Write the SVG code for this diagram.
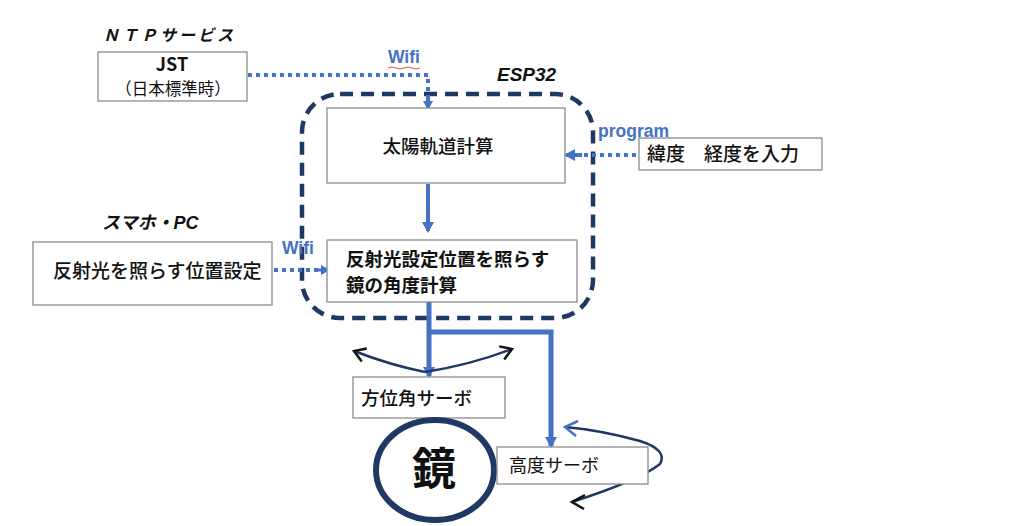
<svg xmlns="http://www.w3.org/2000/svg" width="1024" height="526" viewBox="0 0 1024 526">
<defs>
<style>
.box{fill:#fff;stroke:#8c8c8c;stroke-width:1.3}
.t{font-family:"Noto Sans CJK JP","Liberation Sans",sans-serif;fill:#111}
.it{font-family:"Liberation Sans","Noto Sans CJK JP",sans-serif;font-style:italic;font-weight:bold;fill:#111}
.lbl{font-family:"Liberation Sans",sans-serif;font-weight:bold;fill:#4472c4;font-size:17.5px}
.dot{fill:none;stroke:#4472c4;stroke-width:4;stroke-dasharray:4 4}
.thick{fill:none;stroke:#4472c4;stroke-width:5}
.curve{fill:none;stroke:#1f3864;stroke-width:2.5}
</style>
<marker id="ah" markerWidth="10" markerHeight="10" refX="7" refY="5" orient="auto" markerUnits="userSpaceOnUse" viewBox="0 0 10 10">
<path d="M0,0 L9,5 L0,10 Z" fill="#4472c4"/>
</marker>
<marker id="ahs" markerWidth="12" markerHeight="12" refX="9" refY="6" orient="auto" markerUnits="userSpaceOnUse" viewBox="0 0 12 12">
<path d="M0,0 L11,6 L0,12 Z" fill="#4472c4"/>
</marker>
<marker id="open" markerWidth="16" markerHeight="16" refX="13" refY="8" orient="auto" markerUnits="userSpaceOnUse" viewBox="0 0 16 16">
<path d="M2,1 L13,8 L2,15" fill="none" stroke="#111" stroke-width="2.5"/>
</marker>
</defs>
<rect width="1024" height="526" fill="#fff"/>

<g id="esp32">
<rect x="302" y="94" width="291" height="224" rx="38" fill="none" stroke="#1f3864" stroke-width="4.5" stroke-dasharray="13 8"/>
<text class="it" x="497" y="81" font-size="19" font-weight="normal">ESP32</text>
</g>

<g id="connectors">
<path class="dot" d="M248,75 H428 V100" />
<path d="M428,98 V108" stroke="#4472c4" stroke-width="4" marker-end="url(#ah)"/>
<path class="dot" d="M636,155 H580"/>
<path d="M582,155 H566" stroke="#4472c4" stroke-width="4" marker-end="url(#ahs)"/>
<path class="dot" d="M274,270 H318"/>
<path d="M318,270 H328" stroke="#4472c4" stroke-width="3" marker-end="url(#ah)"/>
<path d="M428,184 V231" stroke="#4472c4" stroke-width="4" marker-end="url(#ahs)"/>
<path d="M429,302 V376" class="thick" marker-end="url(#ahs)"/>
<path d="M429,332 H551 V446" class="thick" marker-end="url(#ahs)"/>
<path class="curve" d="M425,372 Q390,365 354,351" marker-end="url(#open)"/>
<path class="curve" d="M425,372 Q470,365 512,349" marker-end="url(#open)"/>
<path class="curve" d="M572,502 Q640,480 660,464 Q668,450 640,441 Q600,430 565,427"/>
<path d="M578,421 L565,427 L576,436" fill="none" stroke="#4472c4" stroke-width="2.5"/>
<path d="M585,495 L572,502 L584,509" fill="none" stroke="#111" stroke-width="2.5"/>
</g>

<g id="ntp">
<text class="it" x="103" y="41" font-size="16" letter-spacing="3">ＮＴＰサービス</text>
<rect class="box" x="98" y="52" width="149" height="49"/>
<text class="t" x="172" y="71" font-size="18" font-weight="bold" text-anchor="middle">JST</text>
<text class="t" x="173" y="95" font-size="16.5" text-anchor="middle">（日本標準時）</text>
<text class="lbl" x="388" y="63">Wifi</text>
<path d="M388,68 Q392,66 396,68 T404,68 T412,68 T420,68" fill="none" stroke="#e05050" stroke-width="1"/>
</g>

<g id="sun">
<rect class="box" x="327" y="108" width="238" height="75"/>
<text class="t" x="438" y="153" font-size="18.5" font-weight="500" text-anchor="middle">太陽軌道計算</text>
</g>

<g id="latlon">
<text class="lbl" x="598" y="137">program</text>
<rect class="box" x="639" y="138" width="183" height="32"/>
<text class="t" x="647" y="161" font-size="19" font-weight="500" xml:space="preserve">緯度　経度を入力</text>
</g>

<g id="phone">
<text class="it" x="102" y="229" font-size="18">スマホ・PC</text>
<rect class="box" x="33" y="242" width="239" height="63"/>
<text class="t" x="53" y="278" font-size="19" font-weight="500">反射光を照らす位置設定</text>
<text class="lbl" x="282" y="254">Wifi</text>
</g>

<g id="calc">
<rect class="box" x="327" y="240" width="250" height="62"/>
<text class="t" x="346" y="266" font-size="18.5" font-weight="bold">反射光設定位置を照らす</text>
<text class="t" x="346" y="292" font-size="18.5" font-weight="bold">鏡の角度計算</text>
</g>

<g id="azimuth">
<rect class="box" x="353" y="377" width="152" height="41"/>
<text class="t" x="361" y="405" font-size="18.5" font-weight="500">方位角サーボ</text>
</g>

<g id="mirror">
<ellipse cx="435" cy="470" rx="59" ry="50" fill="#fff" stroke="#1f3864" stroke-width="6"/>
<text class="t" x="434" y="485" font-size="44" font-weight="bold" text-anchor="middle">鏡</text>
</g>

<g id="elevation">
<rect class="box" x="497" y="447" width="151" height="37"/>
<text class="t" x="509" y="472" font-size="18">高度サーボ</text>
</g>
</svg>
